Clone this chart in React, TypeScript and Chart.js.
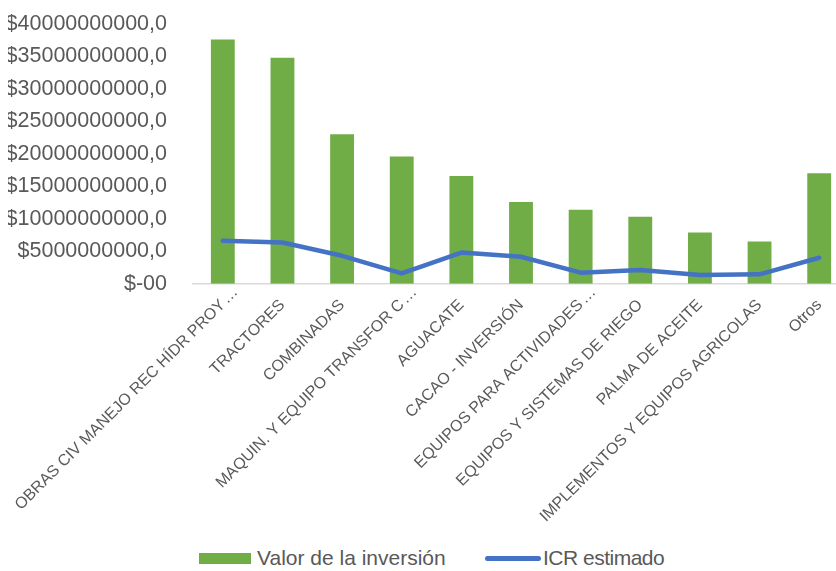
import React, { useEffect, useRef } from "react";
import { Chart, registerables } from "chart.js";

Chart.register(...registerables);

const categories = [
  "OBRAS CIV MANEJO REC HÍDR PROY…",
  "TRACTORES",
  "COMBINADAS",
  "MAQUIN. Y EQUIPO TRANSFOR C…",
  "AGUACATE",
  "CACAO - INVERSIÓN",
  "EQUIPOS PARA ACTIVIDADES…",
  "EQUIPOS Y SISTEMAS DE RIEGO",
  "PALMA DE ACEITE",
  "IMPLEMENTOS Y EQUIPOS AGRICOLAS",
  "Otros",
];

const investment = [
  37600000000, 34800000000, 23000000000, 19600000000, 16600000000,
  12600000000, 11400000000, 10300000000, 7900000000, 6500000000, 17000000000,
];

const icr = [
  6600000000, 6350000000, 4300000000, 1600000000, 4800000000,
  4150000000, 1700000000, 2100000000, 1350000000, 1450000000, 4000000000,
];

const yMin = 0;
const yMax = 40000000000;
const yStep = 5000000000;

const seriesNames = ["Valor de la inversión", "ICR estimado"];

const FONT = '"Liberation Sans", Arial, sans-serif';
const TEXT = "#595959";
const GREEN = "#70AD47";
const BLUE = "#4472C4";
const ELLIPSIS = "…";

// Excel anchors truncated labels by their visible text and lets the ellipsis hang past the tick.
const ellipsisPlugin = {
  id: "ellipsisHang",
  afterDraw(chart: any) {
    const scale = chart.scales.x;
    if (!scale || !scale.getLabelItems) return;
    const items = scale.getLabelItems();
    const ctx = chart.ctx;
    items.forEach((item: any, i: number) => {
      const cat = categories[i];
      if (!cat || !cat.endsWith(ELLIPSIS)) return;
      const o = item.options;
      ctx.save();
      ctx.translate(o.translation[0], o.translation[1]);
      ctx.rotate(o.rotation);
      ctx.font = item.font.string;
      ctx.fillStyle = TEXT;
      ctx.textAlign = "left";
      ctx.textBaseline = o.textBaseline;
      ctx.fillText(ELLIPSIS, 2, item.textOffset);
      ctx.restore();
    });
  },
};

export default function App() {
  const ref = useRef<HTMLCanvasElement>(null);

  useEffect(() => {
    if (!ref.current) return;
    const chart = new Chart(ref.current, {
      type: "bar",
      data: {
        labels: categories,
        datasets: [
          {
            type: "line",
            label: seriesNames[1],
            data: icr,
            borderColor: BLUE,
            backgroundColor: BLUE,
            borderWidth: 4.5,
            pointRadius: 0,
            tension: 0,
            borderCapStyle: "round",
            borderJoinStyle: "round",
            fill: false,
            order: 0,
          } as any,
          {
            type: "bar",
            label: seriesNames[0],
            data: investment,
            backgroundColor: GREEN,
            categoryPercentage: 0.4,
            barPercentage: 1,
            order: 1,
          } as any,
        ],
      },
      plugins: [ellipsisPlugin],
      options: {
        responsive: false,
        animation: false,
        devicePixelRatio: 1,
        layout: { padding: { left: 8, top: 10, right: 13, bottom: 2 } },
        plugins: {
          legend: { display: false },
          tooltip: { enabled: false },
        },
        scales: {
          x: {
            grid: { display: false, drawTicks: false },
            border: { display: true, color: "#D9D9D9", width: 1.5 },
            afterFit: (scale: any) => {
              scale.paddingLeft = 0;
              scale.paddingRight = 0;
            },
            ticks: {
              autoSkip: false,
              minRotation: 45,
              maxRotation: 45,
              color: TEXT,
              padding: 12,
              font: { family: FONT, size: 16 },
              callback: (_v: any, i: number) => {
                const c = categories[i];
                return c.endsWith(ELLIPSIS) ? c.slice(0, -1) : c;
              },
            },
          },
          y: {
            min: yMin,
            max: yMax,
            grid: { display: false, drawTicks: false },
            border: { display: false },
            afterFit: (scale: any) => {
              scale.width = 185;
            },
            ticks: {
              stepSize: yStep,
              color: TEXT,
              padding: 26,
              font: { family: FONT, size: 21.5 },
              callback: (v: any) => (Number(v) === 0 ? "$-00" : "$" + String(v) + ",0"),
            },
          },
        },
      },
    });
    return () => chart.destroy();
  }, []);

  return (
    <div
      style={{
        position: "fixed",
        left: 0,
        top: 0,
        width: 836,
        height: 571,
        overflow: "hidden",
        background: "#fff",
        fontFamily: FONT,
      }}
    >
      <canvas ref={ref} width={862} height={555} style={{ position: "absolute", left: 0, top: -15 }} />
      <div style={{ position: "absolute", left: 199, top: 553, width: 52, height: 11, background: GREEN }} />
      <div
        style={{
          position: "absolute",
          left: 257,
          top: 546,
          fontSize: 21,
          lineHeight: "24px",
          color: TEXT,
          whiteSpace: "nowrap",
        }}
      >
        {seriesNames[0]}
      </div>
      <div
        style={{
          position: "absolute",
          left: 485,
          top: 556,
          width: 56,
          height: 5,
          borderRadius: 3,
          background: BLUE,
        }}
      />
      <div
        style={{
          position: "absolute",
          left: 543,
          top: 546,
          fontSize: 21,
          letterSpacing: "-0.5px",
          lineHeight: "24px",
          color: TEXT,
          whiteSpace: "nowrap",
        }}
      >
        {seriesNames[1]}
      </div>
    </div>
  );
}
